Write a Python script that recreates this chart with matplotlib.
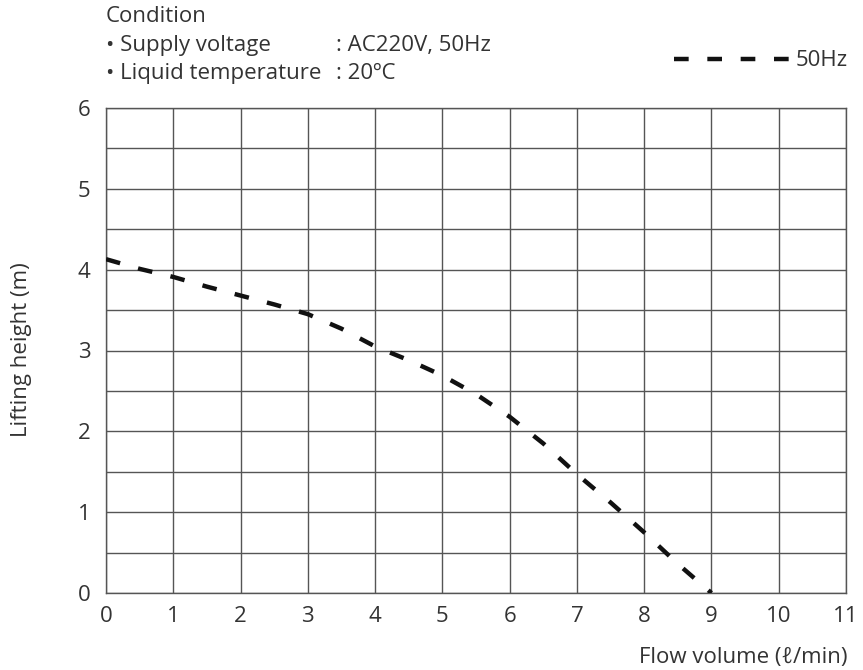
import numpy as np
import matplotlib.pyplot as plt

# flow volume (l/min) vs lifting height (m)
flow = [0, 0.5, 1, 1.5, 2, 2.5, 3, 3.5, 4, 4.5, 5, 5.5, 6, 6.5, 7, 7.5, 8, 8.5, 9]
height = [4.13, 4.01, 3.91, 3.79, 3.68, 3.57, 3.45, 3.27, 3.05, 2.88, 2.69, 2.46,
          2.18, 1.85, 1.47, 1.12, 0.75, 0.36, 0.0]
series_label = '50Hz'

x_ticks = list(range(0, 12))
y_ticks = list(range(0, 7))
y_grid = np.arange(0, 6.5, 0.5)

cond_title = 'Condition'
cond_names = ['\u2022 Supply voltage', '\u2022 Liquid temperature']
cond_values = [': AC220V, 50Hz', ': 20\u00baC']

plt.rcParams['font.family'] = ['Open Sans', 'DejaVu Sans']
text_color = '#333333'
grid_color = '#555555'
fs = 16

fig = plt.figure(figsize=(8.63, 6.70), dpi=100)
ax = fig.add_axes([106/863, 77/670, 740/863, 485/670])

ax.plot(flow, height, color='#111111', lw=3.2, linestyle=(0, (3.3, 4.2)),
        dash_capstyle='butt', label=series_label, zorder=3)

ax.set_xlim(0, 11)
ax.set_ylim(0, 6)
ax.set_xticks(x_ticks)
ax.set_yticks(y_ticks)
for xv in x_ticks:
    ax.axvline(xv, color=grid_color, lw=1.0, zorder=1)
for yv in y_grid:
    ax.axhline(yv, color=grid_color, lw=1.0, zorder=1)
for s in ax.spines.values():
    s.set_color(grid_color)
    s.set_linewidth(1.0)

ax.tick_params(length=0, labelsize=fs, labelcolor=text_color)
ax.tick_params(axis='x', pad=9)
ax.tick_params(axis='y', pad=11)

fig.text(21/863, 1 - 350/670, 'Lifting height (m)', rotation=90, ha='center',
         va='center', fontsize=fs, color=text_color)
fig.text(847/863, 1 - 658/670, 'Flow volume (\u2113/min)', ha='right', va='center',
         fontsize=fs, color=text_color)

# condition block
fig.text(106/863, 1 - 17/670, cond_title, fontsize=fs, color=text_color, va='center')
for i, (n, v) in enumerate(zip(cond_names, cond_values)):
    yy = 1 - (45 + 28.5*i)/670
    fig.text(106/863, yy, n, fontsize=fs, color=text_color, va='center')
    fig.text(336/863, yy, v, fontsize=fs, color=text_color, va='center')

leg = ax.legend(loc='center right', bbox_to_anchor=(848/863, 1 - 61/670),
                bbox_transform=fig.transFigure, frameon=False, fontsize=fs,
                handlelength=5.2, handletextpad=0.3, borderpad=0, borderaxespad=0)
for t in leg.get_texts():
    t.set_color(text_color)

fig.savefig('out.png', dpi=100)
